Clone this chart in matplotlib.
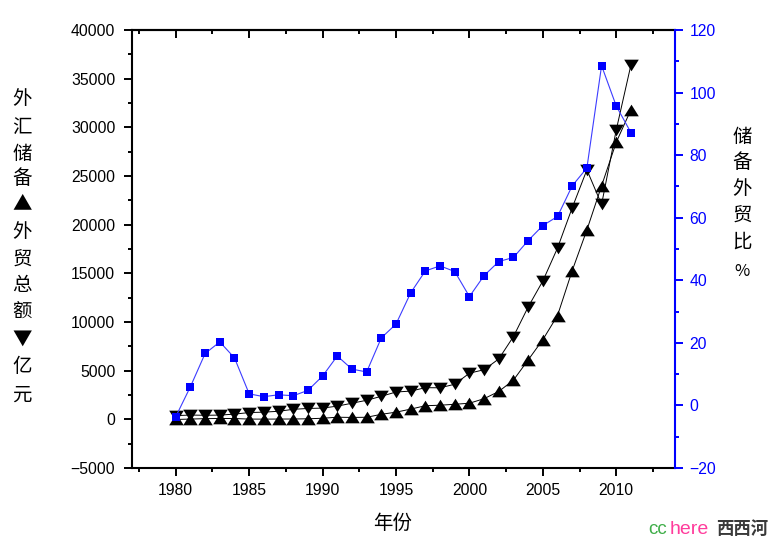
import matplotlib
matplotlib.use("Agg")
import matplotlib.pyplot as plt
from matplotlib.ticker import MultipleLocator

plt.rcParams['font.family'] = ['Liberation Sans', 'Noto Sans CJK SC', 'DejaVu Sans']
cjk = ['Noto Sans CJK SC', 'DejaVu Sans']

# years 1980-2011
years = list(range(1980, 2012))

# 外汇储备 (亿美元)
reserves = [-13, 27, 70, 89, 82, 26, 21, 29, 34, 56, 111, 217, 194, 212, 516, 736,
            1050, 1399, 1450, 1547, 1656, 2122, 2864, 4033, 6099, 8189, 10663,
            15282, 19460, 23992, 28473, 31811]

# 外贸总额 (亿美元)
trade = [381, 440, 416, 436, 536, 696, 739, 827, 1028, 1117, 1154, 1357, 1655, 1957,
         2366, 2809, 2899, 3252, 3240, 3606, 4743, 5097, 6208, 8510, 11546, 14219,
         17604, 21737, 25633, 22075, 29740, 36419]

# 储备外贸比 %
ratio = [-3.6, 6.0, 16.6, 20.3, 15.2, 3.7, 2.8, 3.4, 3.1, 4.8, 9.4, 15.8, 11.6, 10.7,
         21.6, 26.0, 36.0, 43.0, 44.6, 42.8, 34.8, 41.5, 46.0, 47.3, 52.7, 57.5,
         60.4, 70.2, 75.9, 108.6, 95.7, 87.2]

left_label = ['外', '汇', '储', '备', '▲', '外', '贸', '总', '额', '▼', '亿', '元']
right_label = ['储', '备', '外', '贸', '比', '%']

# slightly flat triangles, like the Origin ones
tri_up = [(-1, -0.8), (1, -0.8), (0, 0.8)]
tri_down = [(-1, 0.8), (1, 0.8), (0, -0.8)]

W, H = 770, 541
fig = plt.figure(figsize=(W / 100, H / 100), dpi=100)
ax = fig.add_axes([131.7 / W, 1 - 468 / H, (675 - 131.7) / W, (468 - 30) / H])

# black series on the left axis
ax.plot(years, reserves, color='black', lw=0.7, marker=tri_up, ms=10.5, mfc='black', mec='black', mew=0)
ax.plot(years, trade, color='black', lw=0.7, marker=tri_down, ms=10.5, mfc='black', mec='black', mew=0)

ax.set_xlim(1977, 2014)
ax.set_ylim(-5000, 40000)
ax.xaxis.set_major_locator(MultipleLocator(5))
ax.xaxis.set_minor_locator(MultipleLocator(2.5))
ax.yaxis.set_major_locator(MultipleLocator(5000))
ax.yaxis.set_minor_locator(MultipleLocator(2500))
ax.tick_params(axis='both', which='major', direction='out', length=6, width=1.4, labelsize=11.3)
ax.tick_params(axis='both', which='minor', direction='out', length=2.9, width=1.4)
ax.tick_params(axis='y', pad=5.8)
ax.tick_params(axis='x', pad=5)
for s in ['left', 'bottom', 'top']:
    ax.spines[s].set_linewidth(1.5)
ax.spines['right'].set_visible(False)

# top axis, ticks inward, no labels
top = ax.secondary_xaxis('top')
top.xaxis.set_major_locator(MultipleLocator(5))
top.xaxis.set_minor_locator(MultipleLocator(2.5))
top.tick_params(which='major', direction='in', length=6, width=1.4, labeltop=False)
top.tick_params(which='minor', direction='in', length=2.9, width=1.4)
top.spines['top'].set_linewidth(1.5)

# blue ratio on the right axis
ax2 = ax.twinx()
ax2.plot(years, ratio, color='#3c3cff', lw=0.8, marker='s', ms=5.8, mfc='#0000ff', mec='#0000ff', mew=0)
ax2.set_ylim(-20, 120)
ax2.yaxis.set_major_locator(MultipleLocator(20))
ax2.yaxis.set_minor_locator(MultipleLocator(10))
ax2.tick_params(axis='y', which='major', direction='out', length=6, width=1.4,
                colors='#0000ff', labelsize=11.3, pad=4.3)
ax2.tick_params(axis='y', which='minor', direction='out', length=2.9, width=1.4, colors='#0000ff')
ax2.spines['right'].set_color('#0000ff')
ax2.spines['right'].set_linewidth(1.5)
for s in ['left', 'top', 'bottom']:
    ax2.spines[s].set_visible(False)

# vertical stacked axis titles
left_y = [99, 127, 154, 179, 204, 231, 259, 286, 312, 339, 367, 395]
for ch, yy in zip(left_label, left_y):
    fig.text(22 / W, 1 - yy / H, ch, family=cjk, fontsize=14, ha='center', va='center')

right_y = [137, 163, 189, 215, 242, 272]
for ch, yy in zip(right_label, right_y):
    fs = 12 if ch == '%' else 14
    fig.text(742 / W, 1 - yy / H, ch, family=cjk, fontsize=fs, ha='center', va='center')

fig.text(393 / W, 1 - 523 / H, '年份', family=cjk, fontsize=14, ha='center', va='center')

# watermark
fig.text(648 / W, 1 - 529 / H, 'cc', fontsize=13.5, color='#3fae49', ha='left', va='center')
fig.text(670 / W, 1 - 529 / H, 'here', fontsize=14, color='#ff3c9c', ha='left', va='center')
fig.text(716 / W, 1 - 529 / H, '西西河', family=cjk, fontsize=12.5, color='#3a3a3a',
         fontweight='bold', ha='left', va='center')

fig.savefig('out.png', dpi=100)
